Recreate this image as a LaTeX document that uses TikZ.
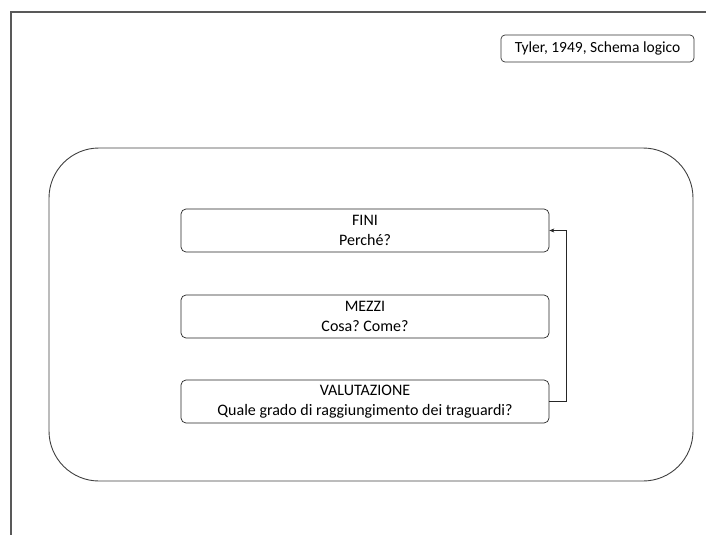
\documentclass[tikz,border=0pt]{standalone}
\usepackage{fontspec}
\setmainfont{Carlito}
\frenchspacing
\usetikzlibrary{arrows.meta}
\begin{document}
\begin{tikzpicture}[x=1pt,y=-1pt,
  stagebox/.style={draw=black!85, line width=0.7pt, rounded corners=5pt,
    minimum width=368pt, minimum height=43pt, align=center, inner sep=0pt,
    font=\fontsize{16}{20}\selectfont},
  tagbox/.style={draw=black!80, line width=0.7pt, rounded corners=4pt,
    minimum width=193pt, minimum height=27pt, inner sep=0pt,
    font=\fontsize{15.5}{18}\selectfont},
  panel/.style={draw=black!75, line width=0.9pt, rounded corners=50pt,
    minimum width=644pt, minimum height=333pt, inner sep=0pt},
  link/.style={draw=black!85, line width=0.7pt, -{Stealth[length=5pt,width=4pt]}}]
  \useasboundingbox (0,0) rectangle (706,535);
  % page frame
  \draw[black!65, line width=1.6pt] (706,12) -- (11,12) -- (11,535);
  % title tag
  \node[tagbox] (tag) at (597.5,48.5) {Tyler, 1949, Schema logico};
  % rounded panel
  \node[panel] (panel) at (371,314.5) {};
  % the three stages
  \node[stagebox] (fini) at (365,230.5) {FINI\\Perché?};
  \node[stagebox] (mezzi) at (365,316.5) {MEZZI\\Cosa? Come?};
  \node[stagebox] (val) at (365,401.5) {VALUTAZIONE\\Quale grado di raggiungimento dei traguardi?};
  % feedback loop
  \coordinate (turn) at (566,0);
  \draw[link] (val.east) -- (val.east -| turn) |- (fini.east);
\end{tikzpicture}
\end{document}
